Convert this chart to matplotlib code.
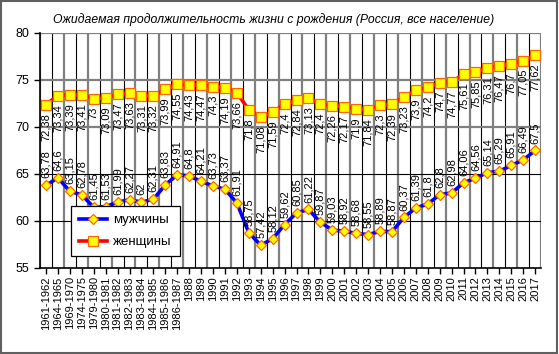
import matplotlib
matplotlib.use("Agg")
import matplotlib.pyplot as plt
from matplotlib.patches import Rectangle

plt.rcParams['font.family'] = ['Liberation Sans', 'DejaVu Sans']

categories = ["1961-1962", "1964-1965", "1969-1970", "1974-1975", "1979-1980",
              "1980-1981", "1981-1982", "1982-1983", "1983-1984", "1984-1985",
              "1985-1986", "1986-1987"] + [str(y) for y in range(1988, 2018)]

men = [63.78, 64.6, 63.15, 62.78, 61.45, 61.53, 61.99, 62.27, 62, 62.31, 63.83, 64.91,
       64.8, 64.21, 63.73, 63.37, 61.91, 58.75, 57.42, 58.12, 59.62, 60.85, 61.22, 59.87,
       59.03, 58.92, 58.68, 58.55, 58.89, 58.87, 60.37, 61.39, 61.8, 62.8, 62.98, 64.06,
       64.56, 65.14, 65.29, 65.91, 66.49, 67.5]

women = [72.38, 73.34, 73.39, 73.41, 73, 73.09, 73.47, 73.63, 73.31, 73.32, 73.99, 74.55,
         74.43, 74.47, 74.3, 74.19, 73.66, 71.8, 71.08, 71.59, 72.4, 72.84, 73.13, 72.4,
         72.26, 72.17, 71.9, 71.84, 72.3, 72.39, 73.23, 73.9, 74.2, 74.7, 74.77, 75.61,
         75.85, 76.31, 76.47, 76.7, 77.05, 77.62]

title = "Ожидаемая продолжительность жизни с рождения (Россия, все население)"

fig = plt.figure(figsize=(5.59, 3.54), dpi=100)
ax = fig.add_axes([0.0716, 0.243, 0.8964, 0.664])

x = list(range(len(categories)))
n = len(categories)

# grid lines
for i in range(n + 1):
    b = i - 0.5
    if i % 2 == 0:
        ax.axvline(b, color='#808080', lw=1.6, zorder=0)
    else:
        ax.axvline(b, color='black', lw=0.8, zorder=0)
for yv, c, w in [(80, '#808080', 1.6), (75, '#808080', 1.6), (70, '#808080', 1.6),
                 (65, 'black', 0.8), (60, 'black', 0.8)]:
    ax.axhline(yv, color=c, lw=w, zorder=0)

ax.plot(x, men, color='#0000FF', lw=2.6, marker='D', ms=5.5,
        markerfacecolor='#FFFF00', markeredgecolor='#FF6600', markeredgewidth=0.9,
        label='мужчины', zorder=3)
ax.plot(x, women, color='#FF0000', lw=2.6, marker='s', ms=6.5,
        markerfacecolor='#FFFF00', markeredgecolor='#FF6600', markeredgewidth=0.9,
        label='женщины', zorder=3)

def fmt(v):
    s = ('%.2f' % v).rstrip('0').rstrip('.')
    return s.replace('.', ',')

for xi, v in zip(x, men):
    ax.annotate(fmt(v), (xi, v), xytext=(0, 5), textcoords='offset points',
                rotation=90, ha='center', va='bottom', fontsize=8, zorder=4)
for xi, v in zip(x, women):
    ax.annotate(fmt(v), (xi, v), xytext=(0, -6), textcoords='offset points',
                rotation=90, ha='center', va='top', fontsize=8, zorder=4)

ax.set_xlim(-0.5, n - 0.5)
ax.set_ylim(55, 80)
ax.set_yticks([55, 60, 65, 70, 75, 80])
ax.tick_params(axis='y', labelsize=9, length=4, width=1)
ax.set_xticks(x)
ax.set_xticklabels(categories, rotation=90, fontsize=8)
ax.tick_params(axis='x', length=4, width=1, pad=2)
for s in ['top', 'right']:
    ax.spines[s].set_visible(False)
ax.spines['left'].set_linewidth(1.2)
ax.spines['bottom'].set_linewidth(1.2)

fig.text(0.49, 0.945, title, ha='center', va='center', fontsize=8.8, style='italic')

leg = ax.legend(loc='lower left', bbox_to_anchor=(0.062, 0.05), fontsize=9.5,
                frameon=True, fancybox=False, edgecolor='black', framealpha=1,
                handlelength=2.1, handletextpad=0.5, borderpad=0.6,
                labelspacing=0.75, borderaxespad=0)
leg.get_frame().set_linewidth(0.9)
leg.set_zorder(5)

fig.patches.append(Rectangle((0.002, 0.004), 0.994, 0.992, transform=fig.transFigure,
                             fill=False, edgecolor='#606060', lw=1.5))

fig.savefig('out.png', dpi=100)
